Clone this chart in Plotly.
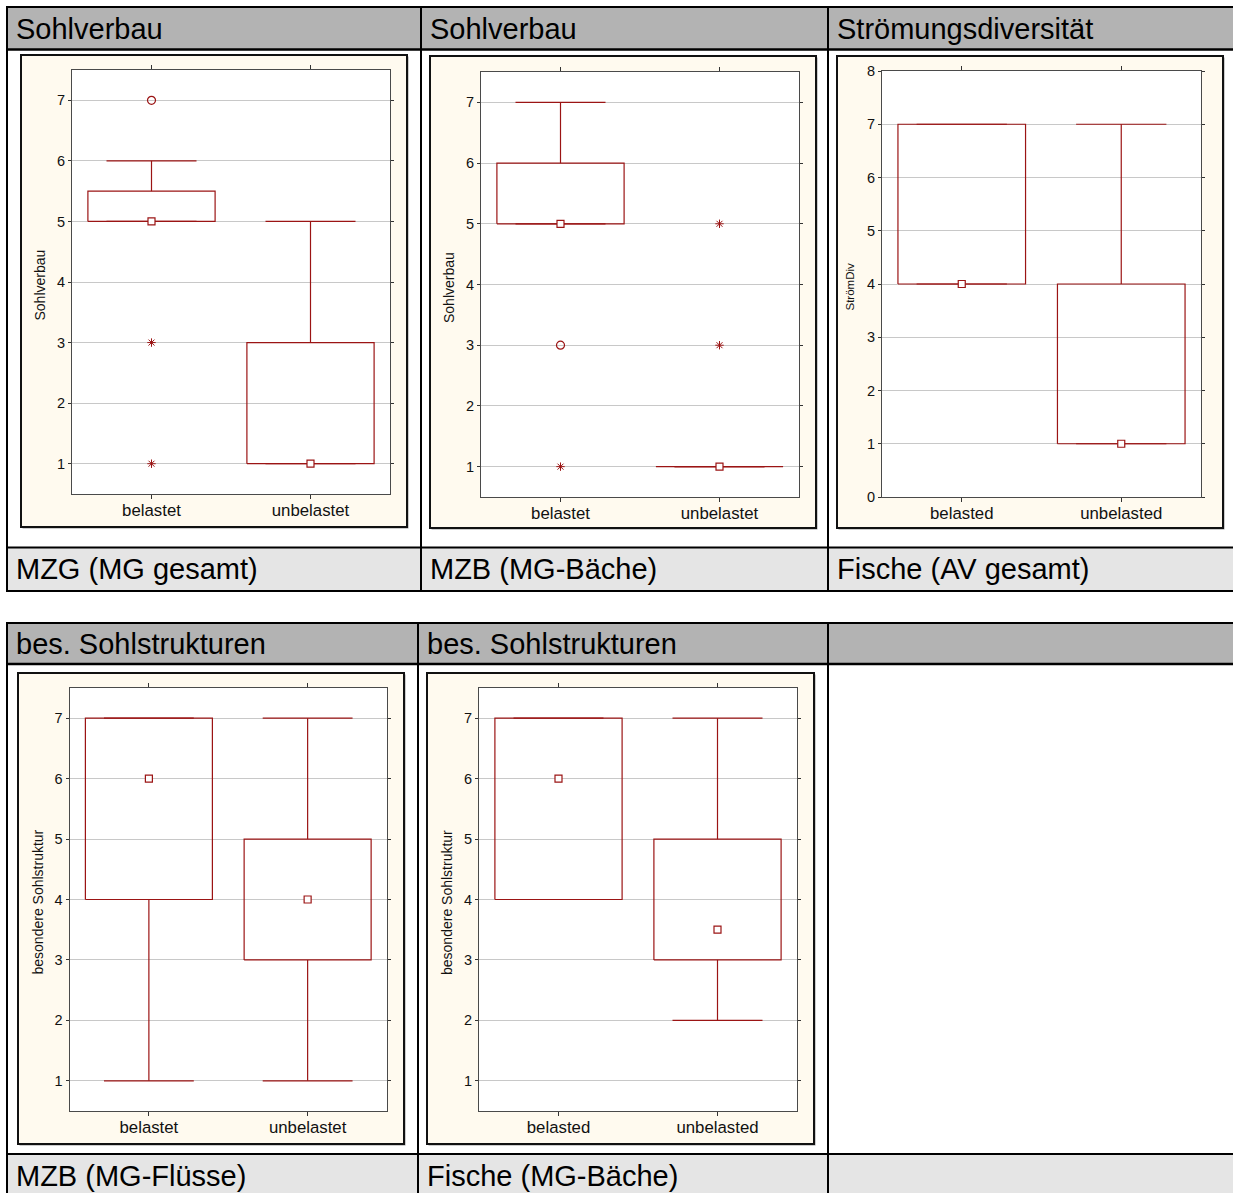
import plotly.graph_objects as go

# ---------------------------------------------------------------- data
# table captions (row 1: three cells, row 2: three cells)
header_titles = ["Sohlverbau", "Sohlverbau", "Strömungsdiversität",
                 "bes. Sohlstrukturen", "bes. Sohlstrukturen", ""]
footer_titles = ["MZG (MG gesamt)", "MZB (MG-Bäche)", "Fische (AV gesamt)",
                 "MZB (MG-Flüsse)", "Fische (MG-Bäche)", ""]

# axis labels of the five box plots
y_titles = ["Sohlverbau", "Sohlverbau", "StrömDiv",
            "besondere Sohlstruktur", "besondere Sohlstruktur"]
groups_t = ["belastet", "unbelastet"]
groups_d = ["belasted", "unbelasted"]
panel_groups = [groups_t, groups_t, groups_d, groups_t, groups_d]

# box statistics per panel, ordered [belastet, unbelastet]
medians = [[5, 1], [5, 1], [4, 1], [6, 4], [6, 3.5]]
q1 = [[5, 1], [5, 1], [4, 1], [4, 3], [4, 3]]
q3 = [[5.5, 3], [6, 1], [7, 4], [7, 5], [7, 5]]
whisker_low = [[5, 1], [5, 1], [4, 1], [1, 1], [4, 2]]
whisker_high = [[6, 5], [7, 1], [7, 7], [7, 7], [7, 7]]
outliers = [[[7], []], [[3], []], [[], []], [[], []], [[], []]]
extremes = [[[3, 1], []], [[1], [5, 3]], [[], []], [[], []], [[], []]]

y_ranges = [[0.5, 7.5], [0.5, 7.5], [0, 8], [0.5, 7.5], [0.5, 7.5]]
y_tickvals = [list(range(1, 8)), list(range(1, 8)), list(range(0, 9)),
              list(range(1, 8)), list(range(1, 8))]

# ---------------------------------------------------------------- layout helpers
W, H = 1233, 1193
FONT = "Liberation Sans, Arial, sans-serif"
RED = "#9B1414"
HALF_BOX = 0.4
HALF_CAP = 0.283


def px(x):
    return x / W


def py(y):
    return 1 - y / H


# plot areas and cream frames (left, right, top, bottom) in pixels
plot_areas = [(72, 390, 70, 494), (481, 799, 72, 497), (882, 1201, 71, 497),
              (69.5, 387, 688, 1111), (479, 797, 688, 1111)]
frames = [(21, 407, 55, 527), (430, 816, 56, 528), (837, 1223, 56, 528),
          (18, 404, 673, 1144), (427, 814, 673, 1144)]

# table rows: top, header bottom, footer top, bottom, column edges
table_rows = [
    dict(top=7, hb=49.5, ft=547.5, bot=591, cols=[7, 421, 828]),
    dict(top=623, hb=664, ft=1154, bot=1205, cols=[7, 418, 828]),
]

fig = go.Figure()
shapes = []
annotations = []

# ---------------------------------------------------------------- table grid
for r, row in enumerate(table_rows):
    shapes.append(dict(type="rect", xref="paper", yref="paper", layer="below",
                       x0=px(row["cols"][0]), x1=px(W + 10),
                       y0=py(row["top"]), y1=py(row["hb"]),
                       fillcolor="#B3B3B3", line=dict(width=0)))
    shapes.append(dict(type="rect", xref="paper", yref="paper", layer="below",
                       x0=px(row["cols"][0]), x1=px(W + 10),
                       y0=py(row["ft"]), y1=py(row["bot"]),
                       fillcolor="#E5E5E5", line=dict(width=0)))
    for yy, lw in ((row["top"], 2), (row["hb"], 2.5), (row["ft"], 2), (row["bot"], 2)):
        shapes.append(dict(type="line", xref="paper", yref="paper", layer="below",
                           x0=px(row["cols"][0] - 1), x1=px(W + 10),
                           y0=py(yy), y1=py(yy),
                           line=dict(color="#000000", width=lw)))
    for xx in row["cols"]:
        shapes.append(dict(type="line", xref="paper", yref="paper", layer="below",
                           x0=px(xx), x1=px(xx),
                           y0=py(row["top"]), y1=py(row["bot"]),
                           line=dict(color="#000000", width=2)))

    # header and footer captions
    for c in range(3):
        k = r * 3 + c
        x_text = row["cols"][c] + 8
        for text, ymid in ((header_titles[k], (row["top"] + row["hb"]) / 2 + 0.5),
                           (footer_titles[k], (row["ft"] + min(row["bot"], row["ft"] + 43)) / 2)):
            if text:
                annotations.append(dict(
                    text=text, xref="paper", yref="paper",
                    x=px(x_text), y=py(ymid), xanchor="left", yanchor="middle",
                    showarrow=False, borderpad=0,
                    font=dict(family=FONT, size=29, color="#000000")))

# ---------------------------------------------------------------- panels
for i in range(5):
    n = "" if i == 0 else str(i + 1)
    xa, ya = "x" + n, "y" + n
    left, right, top, bottom = plot_areas[i]
    fl, fr, ft, fb = frames[i]

    # cream frame around each chart, with a soft grey shadow edge
    shapes.append(dict(type="rect", xref="paper", yref="paper", layer="below",
                       x0=px(fl + 1.5), x1=px(fr + 1.5), y0=py(fb + 1.5), y1=py(ft + 1.5),
                       fillcolor="#9A9A9A", line=dict(width=0)))
    shapes.append(dict(type="rect", xref="paper", yref="paper", layer="below",
                       x0=px(fl), x1=px(fr), y0=py(fb), y1=py(ft),
                       fillcolor="#FFFAEF", line=dict(color="#111111", width=2)))
    # white plotting area
    shapes.append(dict(type="rect", xref=xa + " domain", yref=ya + " domain",
                       layer="below", x0=0, x1=1, y0=0, y1=1,
                       fillcolor="#FFFFFF", line=dict(width=0)))

    box_x, box_y = [], []
    wh_x, wh_y = [], []
    for j in range(2):
        lo_b, hi_b = q1[i][j], q3[i][j]
        box_x += [j - HALF_BOX, j + HALF_BOX, j + HALF_BOX, j - HALF_BOX, j - HALF_BOX, None]
        box_y += [lo_b, lo_b, hi_b, hi_b, lo_b, None]
        wh_x += [j, j, None, j, j, None,
                 j - HALF_CAP, j + HALF_CAP, None, j - HALF_CAP, j + HALF_CAP, None]
        wh_y += [hi_b, whisker_high[i][j], None, lo_b, whisker_low[i][j], None,
                 whisker_high[i][j], whisker_high[i][j], None,
                 whisker_low[i][j], whisker_low[i][j], None]

    fig.add_trace(go.Scatter(x=wh_x, y=wh_y, mode="lines", xaxis=xa, yaxis=ya,
                             line=dict(color=RED, width=1.2), hoverinfo="skip"))
    fig.add_trace(go.Scatter(x=box_x, y=box_y, mode="lines", xaxis=xa, yaxis=ya,
                             line=dict(color=RED, width=1.2), hoverinfo="skip"))
    fig.add_trace(go.Scatter(x=[0, 1], y=medians[i], mode="markers", xaxis=xa, yaxis=ya,
                             marker=dict(symbol="square", size=7, color="#FFFFFF",
                                         line=dict(color=RED, width=1.2)),
                             hoverinfo="skip"))
    ox = [j for j in range(2) for _ in outliers[i][j]]
    oy = [v for j in range(2) for v in outliers[i][j]]
    if ox:
        fig.add_trace(go.Scatter(x=ox, y=oy, mode="markers", xaxis=xa, yaxis=ya,
                                 marker=dict(symbol="circle-open", size=8, color=RED,
                                             line=dict(color=RED, width=1.2)),
                                 hoverinfo="skip"))
    ex = [j for j in range(2) for _ in extremes[i][j]]
    ey = [v for j in range(2) for v in extremes[i][j]]
    if ex:
        fig.add_trace(go.Scatter(x=ex, y=ey, mode="markers", xaxis=xa, yaxis=ya,
                                 marker=dict(symbol="asterisk-open", size=7, color=RED,
                                             line=dict(color=RED, width=1)),
                                 hoverinfo="skip"))

    fig.layout["xaxis" + n] = dict(
        domain=[px(left), px(right)], range=[-0.5, 1.5], anchor=ya,
        tickvals=[0, 1], ticktext=panel_groups[i],
        showgrid=False, zeroline=False, showline=True, linecolor="#4A4A4A",
        linewidth=1, mirror="ticks", ticks="outside", ticklen=4,
        tickcolor="#333333", tickfont=dict(family=FONT, size=16.8, color="#111111"),
        ticklabelstandoff=-3, fixedrange=True, automargin=False)
    fig.layout["yaxis" + n] = dict(
        domain=[py(bottom), py(top)], range=y_ranges[i], anchor=xa,
        tickvals=y_tickvals[i], showgrid=True, gridcolor="#C8C8C8", gridwidth=1,
        zeroline=False, showline=True, linecolor="#4A4A4A", linewidth=1,
        mirror="ticks", ticks="outside", ticklen=3, tickcolor="#333333",
        tickfont=dict(family=FONT, size=14.5, color="#111111"), fixedrange=True,
        automargin=False)

    annotations.append(dict(
        text=y_titles[i], xref="paper", yref="paper",
        x=px(left - 32.5), y=py((top + bottom) / 2 + 3),
        xanchor="center", yanchor="middle", textangle=-90, showarrow=False,
        font=dict(family=FONT, size=14 if i != 2 else 11.5, color="#111111")))

fig.update_layout(
    width=W, height=H, margin=dict(l=0, r=0, t=0, b=0, pad=0, autoexpand=False),
    paper_bgcolor="#FFFFFF", plot_bgcolor="#FFFFFF",
    showlegend=False, shapes=shapes, annotations=annotations,
    font=dict(family=FONT),
)

fig.write_html("out.html")
